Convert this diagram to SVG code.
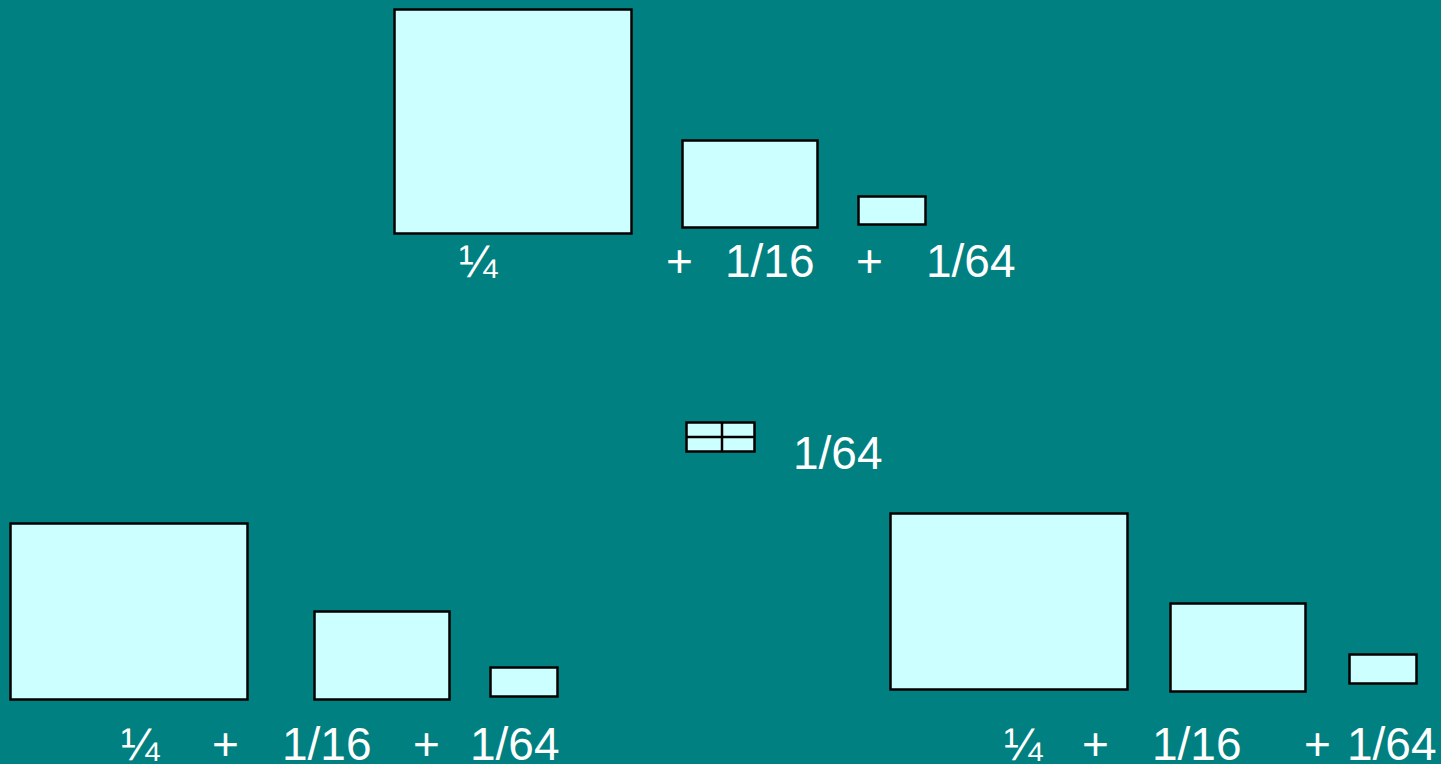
<svg xmlns="http://www.w3.org/2000/svg" width="1441" height="764" viewBox="0 0 1441 764">
<style>
.box{fill:#CCFFFF;stroke:#000;stroke-width:2.5}
.ln{stroke:#000;stroke-width:2.5}
.t{font-family:"Liberation Sans",Arial,sans-serif;font-size:46px;fill:#fff}
</style>
<rect x="0" y="0" width="1441" height="764" fill="#008080"/>
<g id="top">
<rect class="box" x="394.5" y="9.5" width="237" height="224"/>
<rect class="box" x="682.5" y="140.5" width="135" height="87"/>
<rect class="box" x="858.5" y="196.5" width="67" height="28"/>
<text class="t" x="459" y="277">¼</text>
<text class="t" x="666" y="277">+</text>
<text class="t" x="725" y="277">1/16</text>
<text class="t" x="856" y="277">+</text>
<text class="t" x="926" y="277">1/64</text>
</g>
<g id="middle">
<rect class="box" x="686.5" y="422.5" width="68" height="29"/>
<line class="ln" x1="722" y1="422.5" x2="722" y2="451.5"/>
<line class="ln" x1="686.5" y1="437" x2="754.5" y2="437"/>
<text class="t" x="793" y="469">1/64</text>
</g>
<g id="bottom-left">
<rect class="box" x="10.5" y="523.5" width="237" height="176"/>
<rect class="box" x="314.5" y="611.5" width="135" height="88"/>
<rect class="box" x="490.5" y="667.5" width="67" height="29"/>
<text class="t" x="121" y="760">¼</text>
<text class="t" x="212" y="760">+</text>
<text class="t" x="282" y="760">1/16</text>
<text class="t" x="413" y="760">+</text>
<text class="t" x="470" y="760">1/64</text>
</g>
<g id="bottom-right">
<rect class="box" x="890.5" y="513.5" width="237" height="176"/>
<rect class="box" x="1170.5" y="603.5" width="135" height="88"/>
<rect class="box" x="1349.5" y="654.5" width="67" height="29"/>
<text class="t" x="1004" y="760">¼</text>
<text class="t" x="1082" y="760">+</text>
<text class="t" x="1152" y="760">1/16</text>
<text class="t" x="1304" y="760">+</text>
<text class="t" x="1347" y="760">1/64</text>
</g>
<g id="connectors"></g>
</svg>
